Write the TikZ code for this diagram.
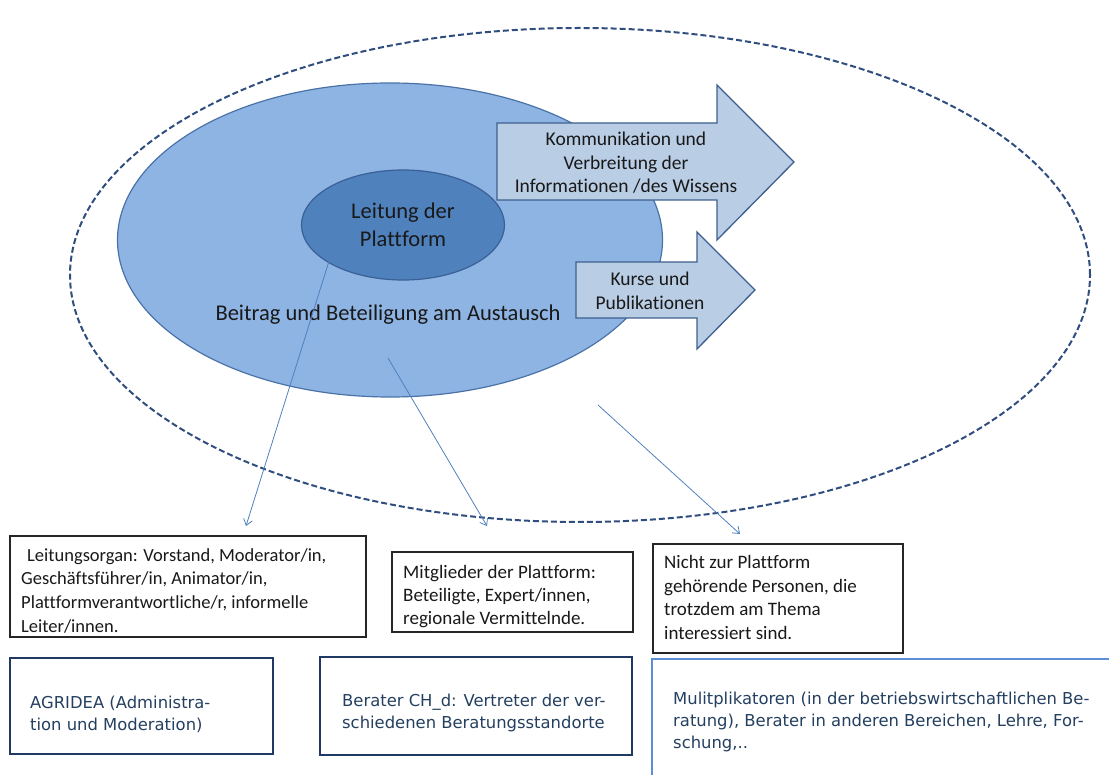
\documentclass[tikz,border=0pt]{standalone}
\usepackage{fontspec}
\setmainfont[Ligatures=NoCommon]{Carlito}
\newfontfamily\tah{DejaVu Sans}
\usetikzlibrary{arrows.meta,shapes.geometric}
\definecolor{dashblue}{HTML}{2F4D7E}
\definecolor{midfill}{HTML}{8EB4E3}
\definecolor{midline}{HTML}{4A72A8}
\definecolor{innerfill}{HTML}{4F81BD}
\definecolor{innerline}{HTML}{3A6096}
\definecolor{arrfill}{HTML}{B9CDE5}
\definecolor{arrline}{HTML}{3D5F8E}
\definecolor{conn}{HTML}{4F81BD}
\definecolor{navy}{HTML}{1F3864}
\definecolor{navytext}{HTML}{243F60}
\definecolor{lightbox}{HTML}{5B8FD6}
\tikzset{
  blackbox/.style={draw=black!85,line width=1.1pt,fill=white},
  navybox/.style={draw=navy,line width=1.4pt},
  txt/.style={font=\fontsize{19}{23.5}\selectfont,text=black!90,align=left,inner sep=0pt},
  btxt/.style={font=\tah\fontsize{16.4}{22}\selectfont,text=navytext,align=left,inner sep=0pt},
  arrtxt/.style={font=\fontsize{19.5}{23.5}\selectfont,text=black!90,align=center,inner sep=0pt},
  conline/.style={draw=conn,line width=0.8pt,-{Straight Barb[length=6pt,width=9pt]}},
  arrowshape/.style={fill=arrfill,draw=arrline,line width=1.3pt,line join=miter}
}
\begin{document}
\begin{tikzpicture}[x=1pt,y=-1pt]
\useasboundingbox (0,0) rectangle (1109,775);
% outer dashed ellipse
\node[draw=dashblue,dash pattern=on 6pt off 3pt,line width=2pt,ellipse,minimum width=1020pt,minimum height=494pt,inner sep=0pt] (outer) at (580,275) {};
% middle ellipse
\node[fill=midfill,draw=midline,line width=1.2pt,ellipse,minimum width=545pt,minimum height=314pt,inner sep=0pt] (mid) at (390,240) {};
% inner ellipse
\node[fill=innerfill,draw=innerline,line width=1.2pt,ellipse,minimum width=203pt,minimum height=110pt,inner sep=0pt,align=center,font=\fontsize{22.5}{28}\selectfont,text=black!90] (inner) at (403,225) {Leitung der\\Plattform};
\node[font=\fontsize{22.5}{26}\selectfont,text=black!90,inner sep=0pt] (beitrag) at (388,315) {Beitrag und Beteiligung am Austausch};
% big arrow
\draw[arrowshape] (497,123) -- (717,123) -- (717,85) -- (794,162) -- (717,240) -- (717,200) -- (497,200) -- cycle;
\node[arrtxt] (komm) at (626,163) {Kommunikation und\\Verbreitung der\\Informationen /des Wissens};
% small arrow
\draw[arrowshape] (576,262) -- (697,262) -- (697,232) -- (755,290) -- (697,349) -- (697,318) -- (576,318) -- cycle;
\node[arrtxt] (kurse) at (650,291) {Kurse und\\Publikationen};
% boxes
\node[blackbox,minimum width=356pt,minimum height=101pt,inner sep=0pt] (b1) at (188,586.5) {};
\node[txt,anchor=north west,font=\fontsize{18.5}{23.7}\selectfont] (b1t) at (21,548) {\hspace{6pt}Leitungsorgan: Vorstand, Moderator/in,\\Geschäftsführer/in, Animator/in,\\Plattformverantwortliche/r, informelle\\Leiter/innen.};
\node[blackbox,minimum width=241pt,minimum height=80pt,inner sep=0pt] (b2) at (512.5,592) {};
\node[txt,anchor=north west,font=\fontsize{19}{23}\selectfont] (b2t) at (403,565.5) {Mitglieder der Plattform:\\Beteiligte, Expert/innen,\\regionale Vermittelnde.};
\node[blackbox,minimum width=250pt,minimum height=109pt,inner sep=0pt] (b3) at (778,598.5) {};
\node[txt,anchor=north west] (b3t) at (664,555.5) {Nicht zur Plattform\\gehörende Personen, die\\trotzdem am Thema\\interessiert sind.};
\node[navybox,minimum width=263pt,minimum height=96pt,inner sep=0pt] (c1) at (141.5,706) {};
\node[btxt,anchor=north west] (c1t) at (30,696) {AGRIDEA (Administra-\\tion und Moderation)};
\node[navybox,minimum width=312pt,minimum height=98pt,inner sep=0pt] (c2) at (476,706) {};
\node[btxt,anchor=north west] (c2t) at (342,694) {Berater CH\_d: Vertreter der ver-\\schiedenen Beratungsstandorte};
\draw[draw=lightbox,line width=1.5pt] (652,790) -- (652,659) -- (1120,659);
\coordinate (c3tl) at (652,659);
\node[btxt,anchor=north west] (c3t) at (673,692) {Mulitplikatoren (in der betriebswirtschaftlichen Be-\\ratung), Berater in anderen Bereichen, Lehre, For-\\schung,..};
% connectors
\coordinate (s1) at (330,258);
\coordinate (e1) at (246,526);
\coordinate (s2) at (388,358);
\coordinate (e2) at (487,526);
\coordinate (s3) at (598,405);
\coordinate (e3) at (740,534);
\draw[conline] (s1) -- (e1);
\draw[conline] (s2) -- (e2);
\draw[conline] (s3) -- (e3);
\end{tikzpicture}
\end{document}
